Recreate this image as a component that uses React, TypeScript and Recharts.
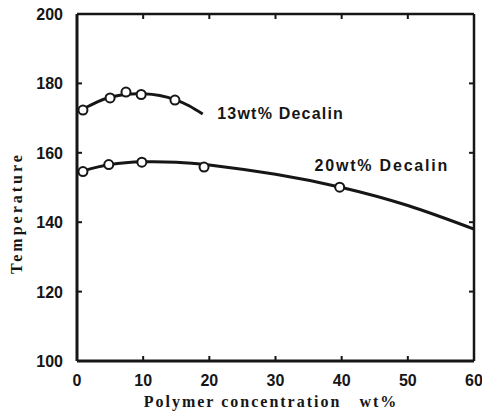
import React from "react";
import {
  ComposedChart,
  Line,
  Scatter,
  XAxis,
  YAxis,
  ReferenceDot,
} from "recharts";

// Measured points (open circles)
const pts13x = [0.9, 5, 7.4, 9.7, 14.8];
const pts13y = [172.3, 175.8, 177.5, 176.8, 175.2];
const pts20x = [0.9, 4.8, 9.8, 19.2, 39.7];
const pts20y = [154.6, 156.6, 157.3, 155.9, 150.1];

// Fitted curves
const curve13x = [0.9, 3, 5, 7.5, 10, 12.5, 15, 17, 19];
const curve13y = [172.6, 174.6, 176.0, 176.9, 177.0, 176.5, 175.2, 173.5, 171.2];
const curve20x = [0.9, 5, 10, 15, 20, 30, 40, 50, 60];
const curve20y = [154.8, 156.6, 157.4, 157.3, 156.5, 153.8, 150.0, 144.8, 138.0];

const xTicks = [0, 10, 20, 30, 40, 50, 60];
const yTicks = [100, 120, 140, 160, 180, 200];

const label13 = "13wt% Decalin";
const label20 = "20wt% Decalin";
const xTitle = "Polymer concentration\u00a0\u00a0\u00a0wt%";
const yTitle = "Temperature";

const zip = (xs: number[], ys: number[]) => xs.map((x, i) => ({ x, y: ys[i] }));
const pts13 = zip(pts13x, pts13y);
const pts20 = zip(pts20x, pts20y);
const curve13 = zip(curve13x, curve13y);
const curve20 = zip(curve20x, curve20y);

const INK = "#161616";
const SANS = "'Liberation Sans', Arial, sans-serif";
const SERIF = "'Liberation Serif', 'DejaVu Serif', serif";

const BottomTick = (props: any) => {
  const { x, y, payload } = props;
  const v = payload.value;
  const showLine = v !== 0 && v !== 60;
  return (
    <g>
      {showLine && <line x1={x} y1={y} x2={x} y2={y - 5} stroke={INK} strokeWidth={2} />}
      <text x={x} y={y + 25} textAnchor="middle" fontFamily={SANS} fontWeight="bold" fontSize={16} fill={INK}>
        {v}
      </text>
    </g>
  );
};

const LeftTick = (props: any) => {
  const { x, y, payload } = props;
  const v = payload.value;
  const showLine = v !== 100 && v !== 200;
  return (
    <g>
      {showLine && <line x1={x} y1={y} x2={x + 5} y2={y} stroke={INK} strokeWidth={2} />}
      <text x={x - 14} y={y + 6} textAnchor="end" fontFamily={SANS} fontWeight="bold" fontSize={16} fill={INK}>
        {v}
      </text>
    </g>
  );
};

const TopTick = (props: any) => {
  const { x, y, payload } = props;
  const v = payload.value;
  if (v === 0 || v === 60) return <g />;
  return <line x1={x} y1={y} x2={x} y2={y + 5} stroke={INK} strokeWidth={2} />;
};

const RightTick = (props: any) => {
  const { x, y, payload } = props;
  const v = payload.value;
  if (v === 100 || v === 200) return <g />;
  return <line x1={x} y1={y} x2={x - 5} y2={y} stroke={INK} strokeWidth={2} />;
};

const OpenCircle = (props: any) => {
  const { cx, cy } = props;
  return <circle cx={cx} cy={cy} r={4.5} fill="#fff" stroke={INK} strokeWidth={2} />;
};

const makeText = (txt: string, spacing: number) => (props: any) => (
  <text
    x={props.cx}
    y={props.cy}
    dominantBaseline="middle"
    fontFamily={SANS}
    fontWeight="bold"
    fontSize={16}
    letterSpacing={spacing}
    fill={INK}
  >
    {txt}
  </text>
);

export default function App() {
  return (
    <div style={{ position: "absolute", left: 0, top: 0, width: 482, height: 417, background: "#fff" }}>
      <ComposedChart
        width={482}
        height={417}
        margin={{ top: 13, right: 7, bottom: 0, left: 0 }}
      >
        <XAxis
          type="number"
          dataKey="x"
          domain={[0, 60]}
          ticks={xTicks}
          height={56}
          tickSize={0}
          tickMargin={0}
          tickLine={false}
          tick={<BottomTick />}
          axisLine={{ stroke: INK, strokeWidth: 3 }}
        />
        <XAxis
          xAxisId="t"
          orientation="top"
          type="number"
          dataKey="x"
          domain={[0, 60]}
          ticks={xTicks}
          height={1}
          tickSize={0}
          tickMargin={0}
          tickLine={false}
          tick={<TopTick />}
          axisLine={{ stroke: INK, strokeWidth: 2.5 }}
        />
        <YAxis
          type="number"
          dataKey="y"
          domain={[100, 200]}
          ticks={yTicks}
          width={77}
          tickSize={0}
          tickMargin={0}
          tickLine={false}
          tick={<LeftTick />}
          axisLine={{ stroke: INK, strokeWidth: 3 }}
        />
        <YAxis
          yAxisId="r"
          orientation="right"
          type="number"
          dataKey="y"
          domain={[100, 200]}
          ticks={yTicks}
          width={1}
          tickSize={0}
          tickMargin={0}
          tickLine={false}
          tick={<RightTick />}
          axisLine={{ stroke: INK, strokeWidth: 2.5 }}
        />
        <Line
          data={curve13}
          dataKey="y"
          type="natural"
          stroke={INK}
          strokeWidth={3}
          dot={false}
          isAnimationActive={false}
        />
        <Line
          data={curve20}
          dataKey="y"
          type="natural"
          stroke={INK}
          strokeWidth={3}
          dot={false}
          isAnimationActive={false}
        />
        <Line
          xAxisId="t"
          yAxisId="r"
          data={curve20}
          dataKey="y"
          stroke="none"
          dot={false}
          activeDot={false}
          isAnimationActive={false}
        />
        <Scatter data={pts13} dataKey="y" shape={<OpenCircle />} isAnimationActive={false} />
        <Scatter data={pts20} dataKey="y" shape={<OpenCircle />} isAnimationActive={false} />
        <ReferenceDot x={21.2} y={171} r={0} shape={makeText(label13, 1.2)} />
        <ReferenceDot x={35.9} y={156} r={0} shape={makeText(label20, 1.8)} />
        <text
          x={271}
          y={407}
          textAnchor="middle"
          fontFamily={SERIF}
          fontWeight="bold"
          fontSize={16}
          letterSpacing={2}
          fill={INK}
        >
          {xTitle}
        </text>
        <text
          x={22}
          y={213}
          transform="rotate(-90 22 213)"
          textAnchor="middle"
          fontFamily={SERIF}
          fontWeight="bold"
          fontSize={16}
          letterSpacing={3}
          fill={INK}
        >
          {yTitle}
        </text>
      </ComposedChart>
    </div>
  );
}
